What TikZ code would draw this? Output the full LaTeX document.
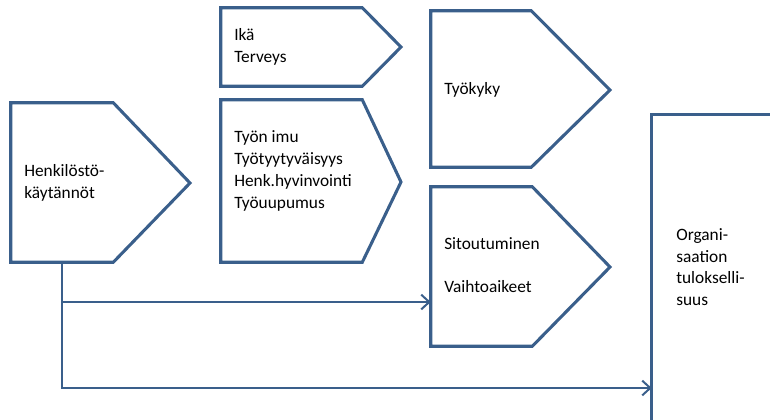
\documentclass[tikz,border=0pt]{standalone}
\usepackage{fontspec}
\setmainfont{Carlito}
\usetikzlibrary{arrows.meta}
\definecolor{boxblue}{RGB}{58,95,139}
\tikzset{
  body/.style={shape=rectangle,inner sep=0pt,minimum width=#1},
  chevron/.style={draw=boxblue,line width=2.3pt,line join=miter},
  txt/.style={anchor=west,align=left,inner sep=0pt,font=\fontsize{13}{16.3}\selectfont},
  arr/.style={draw=boxblue,line width=1.5pt,-{Straight Barb[length=6pt,width=11pt,line width=1.5pt]}}
}
\begin{document}
\begin{tikzpicture}[x=0.75pt,y=-0.75pt]
    \useasboundingbox (0,0) rectangle (770,419);
    \clip (0,0) rectangle (770,419);

    % box bodies
    \node[body=76.5pt,minimum height=119.25pt] (hk) at (62,182.5) {};
    \node[body=105.75pt,minimum height=58.5pt] (ika) at (291.5,47) {};
    \node[body=105.75pt,minimum height=121.5pt] (imu) at (291.5,181) {};
    \node[body=75pt,minimum height=117pt] (tk) at (481,89) {};
    \node[body=75.75pt,minimum height=119.25pt] (sit) at (481.5,266.5) {};
    \node[body=96pt,minimum height=236.25pt] (org) at (716,272.5) {};

    % chevron tips
    \coordinate (hktip) at (190,183);
    \coordinate (ikatip) at (401,47);
    \coordinate (imutip) at (401,182);
    \coordinate (tktip) at (610,90);
    \coordinate (sittip) at (610,267);

    % outlines
    \foreach \b in {hk,ika,imu,tk,sit}
        \draw[chevron] (\b.north west) -- (\b.north east) -- (\b tip)
            -- (\b.south east) -- (\b.south west) -- cycle;
    \draw[chevron] (org.north west) rectangle (org.south east);

    % texts
    \node[txt] (hktxt) at (24,183) {Henkilöstö-\\käytännöt};
    \node[txt] (ikatxt) at (234,47) {Ikä\\Terveys};
    \node[txt] (imutxt) at (234,171) {Työn imu\\Työtyytyväisyys\\Henk.hyvinvointi\\Työuupumus};
    \node[txt] (tktxt) at (444,90) {Työkyky};
    \node[txt] (sittxt) at (444,265.5) {Sitoutuminen\\[16pt]Vaihtoaikeet};
    \node[txt] (orgtxt) at (676,267) {Organi-\\saation\\tulokselli-\\suus};

    % connectors
    \path[arr] (hk.south) |- (sit.west |- 0,302);
    \path[arr] (hk.south) |- (org.west |- 0,388);
\end{tikzpicture}
\end{document}
